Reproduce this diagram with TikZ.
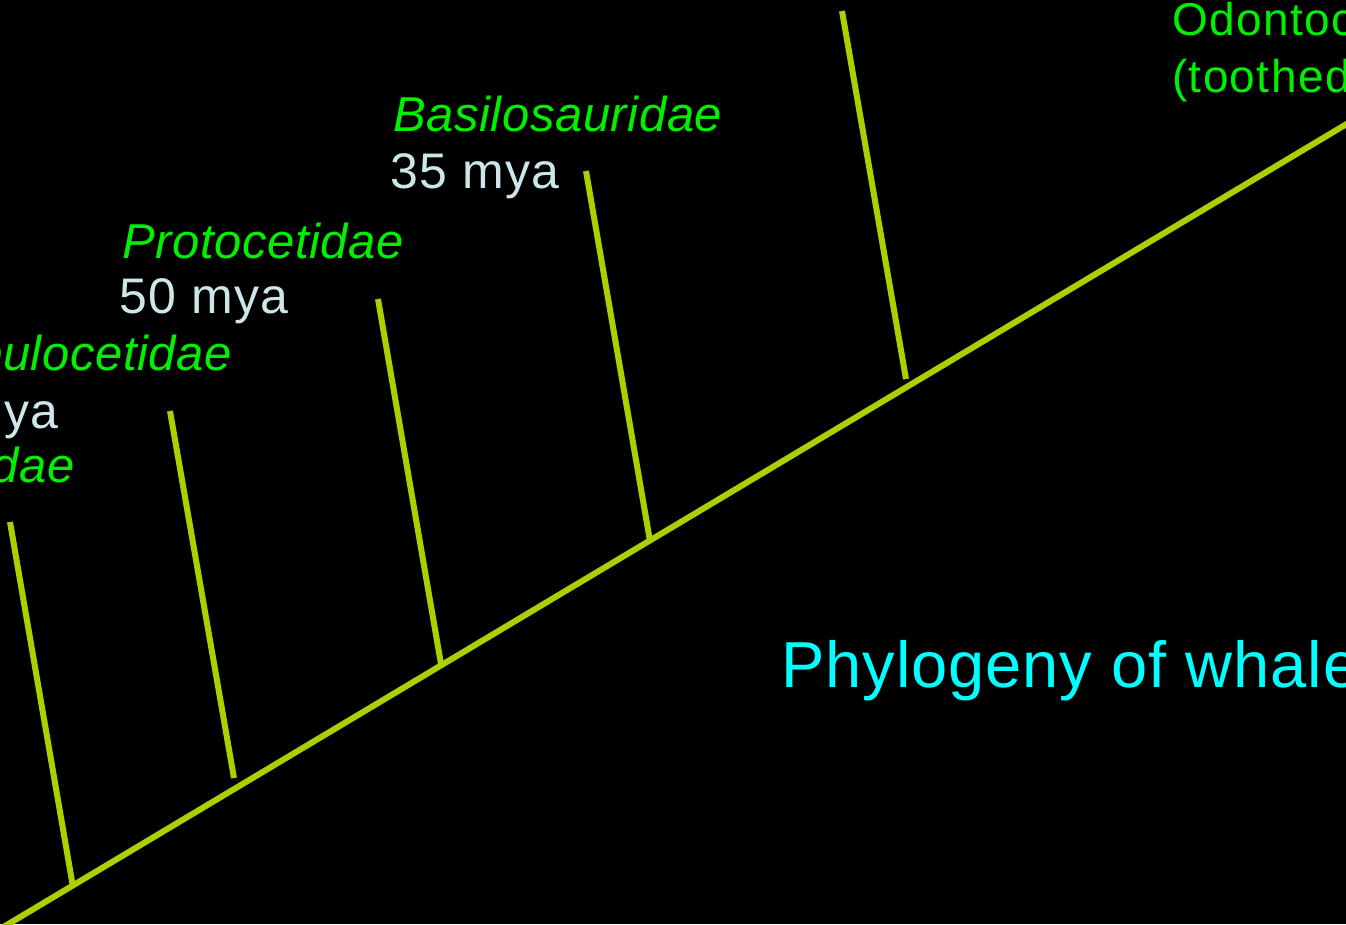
\documentclass[tikz,border=0pt]{standalone}
\usepackage{fontspec}
\setmainfont{Liberation Sans}
\newfontfamily\taxonfont[LetterSpace=1.2]{Liberation Sans}
\newfontfamily\agefont[LetterSpace=2.5]{Liberation Sans}
\newfontfamily\groupfont[LetterSpace=3]{Liberation Sans}
\newfontfamily\titlefont[LetterSpace=1.5]{Liberation Sans}
\definecolor{branchcol}{RGB}{170,208,0}
\definecolor{taxoncol}{RGB}{0,240,0}
\definecolor{agecol}{RGB}{204,230,234}
\definecolor{titlecol}{RGB}{0,255,255}
\tikzset{
  branch/.style={draw=branchcol, line width=6pt},
  taxon/.style={text=taxoncol, font=\taxonfont\fontsize{49}{58}\selectfont\itshape, inner sep=0pt},
  age/.style={text=agecol, font=\agefont\fontsize{50}{58}\selectfont, inner sep=0pt},
  group/.style={text=taxoncol, font=\groupfont\fontsize{46}{57}\selectfont, inner sep=0pt},
  titletext/.style={text=titlecol, font=\titlefont\fontsize{65}{72}\selectfont, inner sep=0pt}
}
\begin{document}
\begin{tikzpicture}[x=1pt,y=-1pt]
\fill[black] (0,0) rectangle (1346,924);
\useasboundingbox (0,0) rectangle (1346,924);
\clip (0,0) rectangle (1346,924);
% main stem
\coordinate (s0) at (-10,935);
\coordinate (s1) at (1360,116);
\draw[branch] (s0) -- (s1);
% branches
\coordinate (b1t) at (10,522);  \coordinate (b1b) at (73,887);
\coordinate (b2t) at (170,411); \coordinate (b2b) at (234,778);
\coordinate (b3t) at (378,299); \coordinate (b3b) at (441,664);
\coordinate (b4t) at (586,171); \coordinate (b4b) at (650,541);
\coordinate (b5t) at (842,11);  \coordinate (b5b) at (906,379);
\draw[branch] (b1t) -- (b1b);
\draw[branch] (b2t) -- (b2b);
\draw[branch] (b3t) -- (b3b);
\draw[branch] (b4t) -- (b4b);
\draw[branch] (b5t) -- (b5b);
% labels
\node[taxon, anchor=base east] (paki) at (75,482) {Pakicetidae};
\node[taxon, anchor=base east] (ambu) at (232,370) {Ambulocetidae};
\node[age, anchor=base east] (ambuage) at (59,428) {mya};
\node[taxon, anchor=base west] (proto) at (122,258) {Protocetidae};
\node[age, anchor=base west] (protoage) at (119,313) {50 mya};
\node[taxon, anchor=base west] (basilo) at (393,131) {Basilosauridae};
\node[age, anchor=base west] (basiloage) at (390,188) {35 mya};
\node[group, anchor=base west] (odo1) at (1172,35) {Odontoceti};
\node[group, anchor=base west] (odo2) at (1172,92) {(toothed whales)};
\node[titletext, anchor=base west] (title) at (781,687) {Phylogeny of whales};
\end{tikzpicture}
\end{document}
